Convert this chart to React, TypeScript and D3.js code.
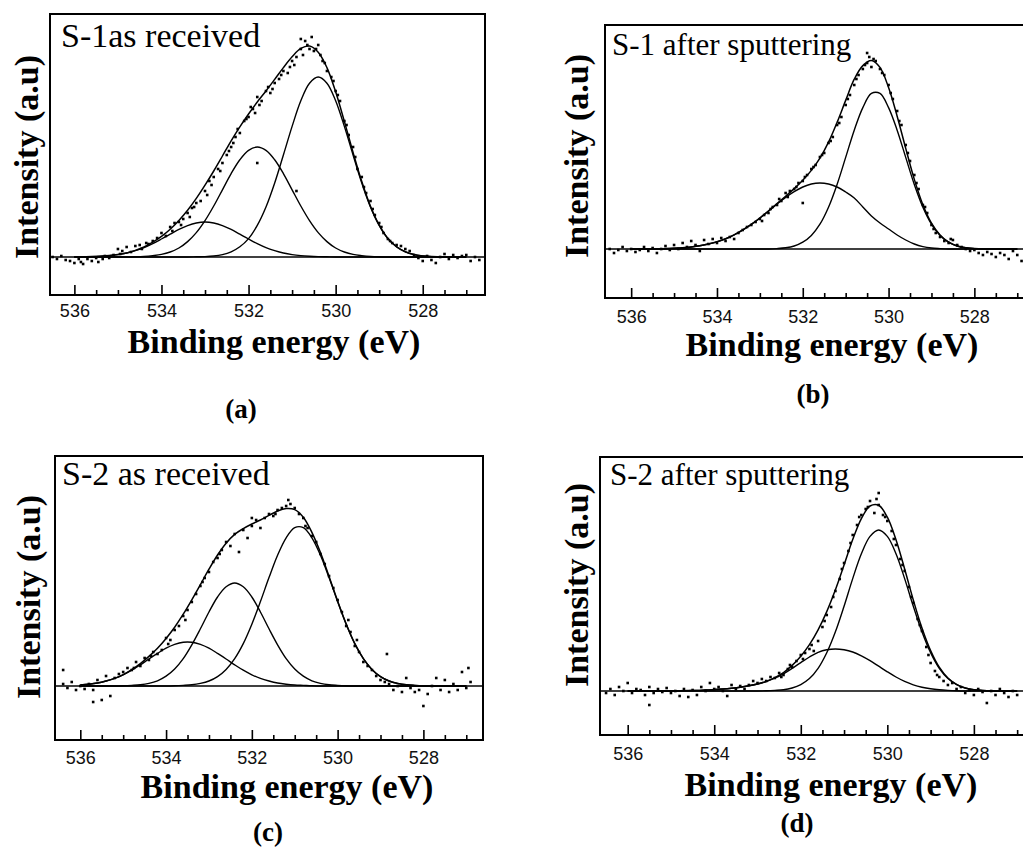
import React, { useEffect, useRef } from "react";
import * as d3 from "d3";

// binding energy grid of the fitted curves (eV)
const energyGrid = [
  536.0, 535.8, 535.6, 535.4, 535.2, 535.0, 534.8, 534.6, 534.4, 534.2,
  534.0, 533.8, 533.6, 533.4, 533.2, 533.0, 532.8, 532.6, 532.4, 532.2,
  532.0, 531.8, 531.6, 531.4, 531.2, 531.0, 530.8, 530.6, 530.4, 530.2,
  530.0, 529.8, 529.6, 529.4, 529.2, 529.0, 528.8, 528.6, 528.4, 528.2,
  528.0, 527.8, 527.6, 527.4, 527.2, 527.0,
];

const majorTicks = [536, 534, 532, 530, 528];
const minorTicks = [535.5, 535, 534.5, 533.5, 533, 532.5, 531.5, 531, 530.5, 529.5, 529, 528.5, 527.5, 527];

// (a) S-1 as received
const aEnvelope = [
  0, 0.1, 0.2, 0.4, 0.7, 1.2, 2.0, 3.3, 5.0, 7.4,
  10.3, 13.9, 18.3, 23.4, 29.3, 35.9, 43.0, 50.5, 58.1, 65.1,
  71.5, 77.5, 83.0, 88.8, 94.7, 100.1, 104.3, 105.5, 102.4, 94.7,
  82.6, 67.8, 52.3, 37.7, 25.3, 15.9, 9.2, 5.1, 2.6, 1.2,
  0.5, 0.2, 0.1, 0, 0, 0,
];
const aPeak1 = [
  0, 0, 0, 0, 0, 0, 0, 0, 0, 0,
  0, 0, 0, 0, 0.1, 0.2, 0.5, 1.2, 2.6, 5.1,
  9.2, 15.8, 25.0, 37.0, 51.0, 65.3, 78.1, 86.9, 90, 86.9,
  78.1, 65.3, 51.0, 37.0, 25.0, 15.8, 9.2, 5.1, 2.6, 1.2,
  0.5, 0.2, 0.1, 0, 0, 0,
];
const aPeak2 = [
  0, 0, 0, 0, 0, 0, 0, 0.1, 0.3, 0.7,
  1.3, 2.5, 4.5, 7.7, 12.2, 18.2, 25.5, 33.6, 41.7, 48.6,
  53.3, 55, 53.3, 48.6, 41.7, 33.6, 25.5, 18.2, 12.2, 7.7,
  4.5, 2.5, 1.3, 0.7, 0.3, 0.1, 0, 0, 0, 0,
  0, 0, 0, 0, 0, 0,
];
const aPeak3 = [
  0, 0.1, 0.2, 0.4, 0.7, 1.2, 2.0, 3.2, 4.7, 6.7,
  9.0, 11.4, 13.8, 15.7, 17.0, 17.5, 17.0, 15.7, 13.8, 11.4,
  9.0, 6.7, 4.7, 3.2, 2.0, 1.2, 0.7, 0.4, 0.2, 0.1,
  0, 0, 0, 0, 0, 0, 0, 0, 0, 0,
  0, 0, 0, 0, 0, 0,
];
const aPoints = [
  [536.5, 0], [536.4, -1], [536.3, 0.5], [536.2, -1.5], [536.1, -2], [536.0, -3], [535.9, -1], [535.85, -2.5],
  [535.8, -3.5], [535.7, -1], [535.6, -2], [535.5, -0.5], [535.45, -2.5], [535.35, -1], [535.3, 0.5], [535.2, -0.5],
  [535.1, 1], [535.0, 4], [534.95, 1.5], [534.9, 3], [534.8, 5], [534.7, 2.5], [534.6, 5.5], [534.5, 6],
  [534.45, 4], [534.35, 7], [534.3, 6.5], [534.2, 8], [534.1, 9.5], [534.0, 12], [533.9, 10.5], [533.8, 15],
  [533.75, 13], [533.7, 17], [533.6, 17.5], [533.5, 19], [533.4, 22], [533.35, 20], [533.3, 24.5], [533.2, 27],
  [533.1, 28], [533.0, 33], [532.95, 31], [532.9, 38], [532.8, 40], [532.7, 44], [532.6, 47], [532.5, 51],
  [532.4, 55], [532.35, 57], [532.3, 60], [532.2, 62], [532.1, 68], [532.0, 70], [531.9, 74], [531.85, 72],
  [531.8, 80], [531.7, 78], [531.6, 83], [531.5, 82], [531.4, 87], [531.3, 89], [531.2, 93], [531.1, 92],
  [531.0, 98], [530.95, 96], [530.9, 100], [530.8, 104], [530.75, 101], [530.8, 109], [530.7, 108], [530.6, 104],
  [530.55, 110], [530.5, 103], [530.4, 106], [530.35, 101], [530.3, 98], [530.2, 93], [530.1, 90], [530.0, 83],
  [529.9, 78], [529.8, 68], [529.7, 61], [529.6, 55], [529.5, 44], [529.4, 40], [529.3, 32], [529.2, 28],
  [529.1, 21], [529.0, 17], [528.9, 12], [528.8, 9], [528.7, 7], [528.6, 6], [528.5, 5.5], [528.4, 4],
  [528.3, 3], [528.2, 1], [528.1, -0.5], [528.0, -2], [527.9, 0.5], [527.8, -1.5], [527.7, -3], [527.6, 0],
  [527.5, 1.5], [527.4, -1], [527.3, 1], [527.2, -0.5], [527.1, 0.5], [527.0, 1], [526.9, -2], [526.8, 0], [526.7, -1.5],
  [533.55, 16], [533.25, 25], [532.85, 36], [532.65, 43], [532.45, 53], [532.25, 64], [532.05, 69], [531.95, 75],
  [531.75, 76], [531.55, 85], [531.45, 84], [531.25, 91], [531.05, 95], [530.65, 106], [530.45, 104], [530.25, 97],
  [530.05, 88], [529.95, 81], [529.75, 66], [529.55, 50], [529.35, 35], [529.15, 24], [528.95, 15], [528.75, 8],
  [531.8, 47], [530.9, 33],
];

// (b) S-1 after sputtering
const bEnvelope = [
  0, 0, 0, 0, 0.2, 0.4, 0.6, 1.0, 1.6, 2.5,
  3.6, 5.1, 7.1, 9.5, 12.3, 15.5, 19.0, 22.7, 26.4, 30.2,
  34.4, 39.3, 45.4, 53.4, 63.3, 74.3, 84.9, 91.7, 94.3, 90.8,
  80.7, 66.4, 50.3, 34.8, 22.1, 12.9, 7.0, 3.4, 1.5, 0.6,
  0.2, 0, 0, 0, 0, 0,
];
const bPeak1 = [
  0, 0, 0, 0, 0, 0, 0, 0, 0, 0,
  0, 0, 0, 0, 0, 0, 0, 0.2, 0.6, 1.5,
  3.4, 6.8, 12.4, 20.9, 32.3, 45.8, 59.4, 70.7, 77.8, 77.8,
  70.7, 59.4, 45.8, 32.3, 20.9, 12.4, 6.8, 3.4, 1.5, 0.6,
  0.2, 0, 0, 0, 0, 0,
];
const bPeak2 = [
  0, 0, 0, 0, 0.2, 0.4, 0.6, 1.0, 1.6, 2.5,
  3.6, 5.1, 7.1, 9.5, 12.3, 15.5, 19.0, 22.5, 25.8, 28.7,
  31.0, 32.5, 33, 32.5, 31.0, 28.5, 25.5, 21, 16.5, 13,
  10, 7, 4.5, 2.5, 1.2, 0.5, 0.2, 0, 0, 0,
  0, 0, 0, 0, 0, 0,
];
const bPoints = [
  [536.5, 0], [536.4, -2], [536.3, -0.5], [536.2, 1], [536.1, -1], [536.0, 0], [535.9, -1.5], [535.8, -0.5],
  [535.7, 1], [535.6, -1], [535.5, 0.5], [535.4, -2], [535.3, 0], [535.2, 1.5], [535.1, -0.5], [535.0, 2],
  [534.9, 0], [534.8, 3], [534.7, 1], [534.6, 4], [534.5, 2], [534.4, -1], [534.3, 4.5], [534.2, 2.5],
  [534.1, 5], [534.0, 3], [533.9, 5.5], [533.8, 4], [533.7, 6], [533.6, 5], [533.5, 8], [533.4, 9.5],
  [533.3, 11], [533.2, 12], [533.1, 13.5], [533.0, 15], [532.9, 17], [532.8, 18], [532.7, 21], [532.6, 22],
  [532.5, 24], [532.4, 28], [532.3, 29], [532.2, 30], [532.1, 33], [532.0, 34], [532.0, 23], [531.9, 37],
  [531.8, 40], [531.7, 42], [531.6, 46], [531.5, 48], [531.4, 53], [531.3, 56], [531.2, 62], [531.1, 66],
  [531.0, 72], [530.9, 77], [530.8, 82], [530.7, 87], [530.6, 90], [530.5, 93], [530.5, 98], [530.45, 96],
  [530.4, 91], [530.3, 94], [530.2, 90], [530.1, 87], [530.0, 82], [529.9, 75], [529.8, 69], [529.7, 62],
  [529.6, 52], [529.5, 44], [529.4, 37], [529.3, 30], [529.2, 22], [529.1, 18], [529.0, 12], [528.9, 8],
  [528.8, 6], [528.7, 4], [528.6, 3], [528.5, 4.5], [528.4, 2], [528.3, 1], [528.2, 0], [528.1, -1],
  [528.0, -0.5], [527.9, -2], [527.8, -3], [527.7, -1.5], [527.6, -2.5], [527.5, -4], [527.4, -2], [527.3, -3],
  [527.2, -5], [527.1, -1], [527.0, -3], [526.9, -6], [526.8, -2],
  [532.95, 14], [532.75, 20], [532.55, 25], [532.35, 26], [532.15, 31], [531.95, 36], [531.75, 41], [531.55, 47],
  [531.35, 54], [531.15, 63], [530.95, 75], [530.75, 85], [530.55, 92], [530.35, 95], [530.15, 88], [529.95, 78],
  [529.75, 64], [529.55, 48], [529.35, 33], [529.15, 21], [528.95, 10], [528.55, 5],
];

// (c) S-2 as received
const cEnvelope = [
  0.5, 0.9, 1.5, 2.5, 3.8, 5.7, 8.2, 11.2, 14.8, 18.9,
  23.8, 29.4, 35.9, 43.1, 50.7, 58.4, 65.5, 71.4, 75.8, 78.7,
  81.0, 83.0, 85.3, 87.5, 88.7, 88.2, 84.4, 76.8, 66.7, 54.8,
  42.5, 31.0, 21.2, 13.7, 8.3, 4.7, 2.5, 1.3, 0.6, 0.3,
  0.1, 0, 0, 0, 0, 0,
];
const cPeak1 = [
  0, 0, 0, 0, 0, 0, 0, 0, 0, 0,
  0, 0.1, 0.3, 0.6, 1.3, 2.5, 4.7, 8.3, 13.7, 21.2,
  30.9, 42.2, 54.2, 65.4, 74.1, 79.2, 79.2, 74.1, 65.4, 54.2,
  42.2, 30.9, 21.2, 13.7, 8.3, 4.7, 2.5, 1.3, 0.6, 0.3,
  0.1, 0, 0, 0, 0, 0,
];
const cPeak2 = [
  0, 0, 0, 0, 0, 0.1, 0.3, 0.6, 1.3, 2.6,
  4.9, 8.5, 13.7, 20.6, 28.6, 37.0, 44.5, 49.6, 51.5, 49.6,
  44.5, 37.0, 28.6, 20.6, 13.7, 8.5, 4.9, 2.6, 1.3, 0.6,
  0.3, 0.1, 0, 0, 0, 0, 0, 0, 0, 0,
  0, 0, 0, 0, 0, 0,
];
const cPeak3 = [
  0.5, 0.9, 1.5, 2.5, 3.8, 5.6, 7.9, 10.6, 13.5, 16.3,
  18.9, 20.8, 21.9, 21.9, 20.8, 18.9, 16.3, 13.5, 10.6, 7.9,
  5.6, 3.8, 2.5, 1.5, 0.9, 0.5, 0.3, 0.1, 0, 0,
  0, 0, 0, 0, 0, 0, 0, 0, 0, 0,
  0, 0, 0, 0, 0, 0,
];
const cPoints = [
  [536.4, 8], [536.4, 1], [536.3, -1], [536.2, 2], [536.1, -2], [536.0, 0], [535.9, -1.5], [535.8, 1],
  [535.7, -2], [535.7, -8], [535.6, 3], [535.5, -7], [535.4, 5], [535.3, -5], [535.2, 4], [535.1, 6],
  [535.0, 7], [534.9, 9], [534.8, 8], [534.7, 12], [534.6, 10], [534.5, 14], [534.4, 13], [534.3, 17],
  [534.2, 16], [534.1, 18], [534.0, 24], [533.9, 23], [533.8, 28], [533.7, 30], [533.6, 35], [533.5, 38],
  [533.4, 42], [533.3, 46], [533.2, 50], [533.1, 54], [533.0, 57], [532.9, 62], [532.8, 64], [532.7, 68],
  [532.6, 72], [532.5, 70], [532.4, 76], [532.3, 67], [532.2, 78], [532.1, 74], [532.0, 80], [532.0, 84],
  [531.9, 83], [531.8, 79], [531.7, 84], [531.6, 86], [531.5, 85], [531.4, 88], [531.3, 89], [531.2, 90],
  [531.1, 91], [531.0, 89], [530.9, 86], [530.8, 84], [530.75, 80], [530.7, 79], [530.6, 75], [530.5, 72],
  [530.4, 66], [530.3, 61], [530.2, 55], [530.1, 49], [530.0, 43], [529.9, 37], [529.8, 30], [529.75, 33],
  [529.7, 27], [529.6, 20], [529.55, 23], [529.5, 17], [529.4, 12], [529.3, 10], [529.2, 8], [529.1, 5],
  [529.0, 3], [528.9, 2], [528.85, 16], [528.8, 1], [528.7, -2], [528.6, 0], [528.5, -3], [528.4, 4],
  [528.3, -1], [528.2, -3], [528.1, -2], [528.0, -10], [527.9, -4], [527.8, 0], [527.7, 4], [527.6, -2],
  [527.5, 3], [527.4, -3], [527.3, 1], [527.2, -2], [527.1, 7], [527.0, -1], [526.95, 9], [526.9, 2],
  [534.75, 9], [534.35, 15], [533.95, 21], [533.55, 33], [533.15, 52], [532.75, 66], [531.45, 86], [531.15, 93],
];

// (d) S-2 after sputtering
const dEnvelope = [
  0, 0, 0, 0, 0, 0, 0.1, 0.2, 0.3, 0.5,
  0.7, 1.0, 1.4, 1.9, 2.6, 3.5, 4.8, 6.7, 9.2, 12.8,
  17.4, 23.2, 30.6, 39.7, 50.6, 63.0, 75.7, 86.2, 92.5, 92.9,
  86.9, 75.6, 61.0, 45.5, 31.5, 20.2, 11.9, 6.5, 3.3, 1.5,
  0.6, 0.3, 0.1, 0, 0, 0,
];
const dPeak1 = [
  0, 0, 0, 0, 0, 0, 0, 0, 0, 0,
  0, 0, 0, 0, 0, 0, 0.1, 0.3, 0.6, 1.5,
  3.2, 6.2, 11.3, 19.1, 29.6, 42.4, 56.2, 68.6, 77.3, 80.5,
  77.3, 68.6, 56.2, 42.4, 29.6, 19.1, 11.3, 6.2, 3.2, 1.5,
  0.6, 0.3, 0.1, 0, 0, 0,
];
const dPeak2 = [
  0, 0, 0, 0, 0, 0, 0.1, 0.2, 0.3, 0.5,
  0.7, 1.0, 1.4, 1.9, 2.6, 3.5, 4.7, 6.4, 8.6, 11.3,
  14.2, 17.0, 19.3, 20.6, 21, 20.6, 19.5, 17.6, 15.2, 12.4,
  9.6, 7.0, 4.8, 3.1, 1.9, 1.1, 0.6, 0.3, 0.1, 0,
  0, 0, 0, 0, 0, 0,
];
const dPoints = [
  [536.5, -1], [536.4, 1], [536.3, -2], [536.2, 2], [536.1, 0], [536.0, 4], [535.9, -1], [535.8, 1],
  [535.7, 0.5], [535.6, -2], [535.5, 2], [535.5, -7], [535.4, -1], [535.3, 1], [535.2, -0.5], [535.1, 1.5],
  [535.0, -1], [534.9, 0], [534.8, -2.5], [534.7, 1], [534.6, -3], [534.5, 0.5], [534.4, -2], [534.3, 2],
  [534.2, 0], [534.1, 4], [534.0, 1], [533.9, 2], [533.8, 0], [533.7, -2.5], [533.6, 3], [533.5, 1],
  [533.4, 2.5], [533.3, 1], [533.2, 3], [533.1, 5], [533.0, 4], [532.9, 6], [532.8, 5], [532.7, 7],
  [532.6, 6.5], [532.5, 9], [532.4, 8], [532.3, 11], [532.2, 12], [532.1, 15], [532.0, 18], [531.9, 19],
  [531.8, 21], [531.7, 20], [531.6, 25], [531.5, 32], [531.4, 38], [531.3, 42], [531.2, 50], [531.1, 56],
  [531.0, 64], [530.9, 70], [530.8, 78], [530.7, 83], [530.6, 88], [530.5, 91], [530.4, 95], [530.3, 89],
  [530.2, 99], [530.2, 93], [530.1, 88], [530.0, 85], [529.9, 80], [529.8, 73], [529.7, 66], [529.6, 60],
  [529.5, 52], [529.4, 44], [529.3, 36], [529.2, 30], [529.1, 22], [529.0, 14], [528.9, 10], [528.8, 7],
  [528.7, 5], [528.6, 3], [528.5, 4], [528.4, 1], [528.3, 2], [528.2, -1], [528.1, 0.5], [528.0, -2],
  [527.9, 1], [527.8, -0.5], [527.7, -6], [527.6, 0], [527.5, -2], [527.4, 1], [527.3, -1], [527.2, -3],
  [527.1, 0], [527.0, -2],
  [532.45, 7], [532.25, 13], [531.95, 16], [531.75, 23], [531.45, 35], [531.25, 47], [531.05, 61], [530.85, 74],
  [530.65, 87], [530.45, 92], [530.25, 96], [530.05, 87], [529.85, 76], [529.65, 63], [529.45, 47], [529.25, 33],
  [529.05, 18], [528.85, 8],
];

const panels = [
  {
    id: "a", title: "S-1as received", tag: "(a)",
    envelope: aEnvelope, peaks: [aPeak1, aPeak2, aPeak3], points: aPoints,
    layout: {
      left: 50, right: 485, top: 14, bottom: 295, xDomain: [536.56, 526.57], yDomain: [-19, 121.5],
      titleX: 61, titleY: 47, titleSize: 34, tickPad: 9, labelX: 274, labelY: 353, yLabelX: 38, yLabelY: 157,
      tagX: 241, tagY: 418,
    },
  },
  {
    id: "b", title: "S-1 after sputtering", tag: "(b)",
    envelope: bEnvelope, peaks: [bPeak1, bPeak2], points: bPoints,
    layout: {
      left: 605, right: 1037, top: 25, bottom: 298, xDomain: [536.61, 526.54], yDomain: [-24.5, 112],
      titleX: 612, titleY: 55, titleSize: 31, tickPad: 12, labelX: 832, labelY: 356, yLabelX: 588, yLabelY: 156,
      tagX: 813, tagY: 403,
    },
  },
  {
    id: "c", title: "S-2 as received", tag: "(c)",
    envelope: cEnvelope, peaks: [cPeak1, cPeak2, cPeak3], points: cPoints,
    layout: {
      left: 55, right: 483, top: 456, bottom: 740, xDomain: [536.59, 526.61], yDomain: [-27, 115],
      titleX: 62, titleY: 485, titleSize: 34, tickPad: 11, labelX: 287, labelY: 798, yLabelX: 40, yLabelY: 597,
      tagX: 268, tagY: 841,
    },
  },
  {
    id: "d", title: "S-2 after sputtering", tag: "(d)",
    envelope: dEnvelope, peaks: [dPeak1, dPeak2], points: dPoints,
    layout: {
      left: 600, right: 1031, top: 457, bottom: 735, xDomain: [536.64, 526.68], yDomain: [-22, 117],
      titleX: 610, titleY: 485, titleSize: 31, tickPad: 12, labelX: 831, labelY: 796, yLabelX: 588, yLabelY: 585,
      tagX: 797, tagY: 832,
    },
  },
];

const serif = "'Times New Roman', 'Liberation Serif', serif";

const App = () => {
  const chart = useRef<SVGSVGElement>(null);

  useEffect(() => {
    const svg = d3.select(chart.current);
    svg.selectAll("*").remove();

    panels.forEach((p) => {
      const L = p.layout;
      const x = d3.scaleLinear().domain(L.xDomain).range([L.left, L.right]);
      const y = d3.scaleLinear().domain(L.yDomain).range([L.bottom, L.top]);
      const g = svg.append("g");

      g.append("clipPath")
        .attr("id", "clip-" + p.id)
        .append("rect")
        .attr("x", L.left)
        .attr("y", L.top)
        .attr("width", L.right - L.left)
        .attr("height", L.bottom - L.top);

      const plot = g.append("g").attr("clip-path", `url(#clip-${p.id})`);

      // baseline
      plot
        .append("line")
        .attr("x1", x.range()[0])
        .attr("x2", x.range()[1])
        .attr("y1", y(0))
        .attr("y2", y(0))
        .attr("stroke", "#000")
        .attr("stroke-width", 1.6);

      const line = d3
        .line<number>()
        .x((d, i) => x(energyGrid[i]))
        .y((d) => y(d))
        .curve(d3.curveCatmullRom.alpha(0.5));

      plot
        .selectAll("path.peak")
        .data(p.peaks)
        .join("path")
        .attr("class", "peak")
        .attr("d", (d) => line(d))
        .attr("fill", "none")
        .attr("stroke", "#000")
        .attr("stroke-width", 1.4);

      plot
        .append("path")
        .attr("d", line(p.envelope))
        .attr("fill", "none")
        .attr("stroke", "#000")
        .attr("stroke-width", 1.5);

      plot
        .selectAll("rect.pt")
        .data(p.points)
        .join("rect")
        .attr("class", "pt")
        .attr("x", (d) => x(d[0]) - 1.3)
        .attr("y", (d) => y(d[1]) - 1.3)
        .attr("width", 2.6)
        .attr("height", 2.6)
        .attr("fill", "#000");

      // frame
      g.append("rect")
        .attr("x", L.left)
        .attr("y", L.top)
        .attr("width", L.right - L.left)
        .attr("height", L.bottom - L.top)
        .attr("fill", "none")
        .attr("stroke", "#000")
        .attr("stroke-width", 2);

      const major = g
        .append("g")
        .attr("transform", `translate(0,${L.bottom})`)
        .call(
          d3.axisBottom(x).tickValues(majorTicks).tickSize(-10).tickPadding(L.tickPad).tickFormat(d3.format("d"))
        );
      major.select(".domain").remove();
      major.selectAll("line").attr("stroke", "#000").attr("stroke-width", 1.6);
      major
        .attr("font-family", "'Liberation Sans', Arial, sans-serif")
        .attr("font-size", 18);
      major.selectAll("text").attr("fill", "#111");

      const minor = g
        .append("g")
        .attr("transform", `translate(0,${L.bottom})`)
        .call(d3.axisBottom(x).tickValues(minorTicks).tickSize(-5).tickFormat(() => ""));
      minor.select(".domain").remove();
      minor.selectAll("line").attr("stroke", "#000").attr("stroke-width", 1.6);

      g.append("text")
        .attr("x", L.titleX)
        .attr("y", L.titleY)
        .attr("font-family", serif)
        .attr("font-size", L.titleSize)
        .attr("fill", "#000")
        .text(p.title);

      g.append("text")
        .attr("x", L.labelX)
        .attr("y", L.labelY)
        .attr("text-anchor", "middle")
        .attr("font-family", serif)
        .attr("font-weight", "bold")
        .attr("font-size", 34)
        .text("Binding energy (eV)");

      g.append("text")
        .attr("transform", `translate(${L.yLabelX},${L.yLabelY}) rotate(-90)`)
        .attr("text-anchor", "middle")
        .attr("font-family", serif)
        .attr("font-weight", "bold")
        .attr("font-size", 34)
        .text("Intensity (a.u)");

      g.append("text")
        .attr("x", L.tagX)
        .attr("y", L.tagY)
        .attr("text-anchor", "middle")
        .attr("font-family", serif)
        .attr("font-weight", "bold")
        .attr("font-size", 27)
        .text(p.tag);
    });
  }, []);

  return (
    <svg
      ref={chart}
      width={1023}
      height={860}
      style={{ position: "absolute", left: 0, top: 0, background: "#fff" }}
    ></svg>
  );
};

export default App;
